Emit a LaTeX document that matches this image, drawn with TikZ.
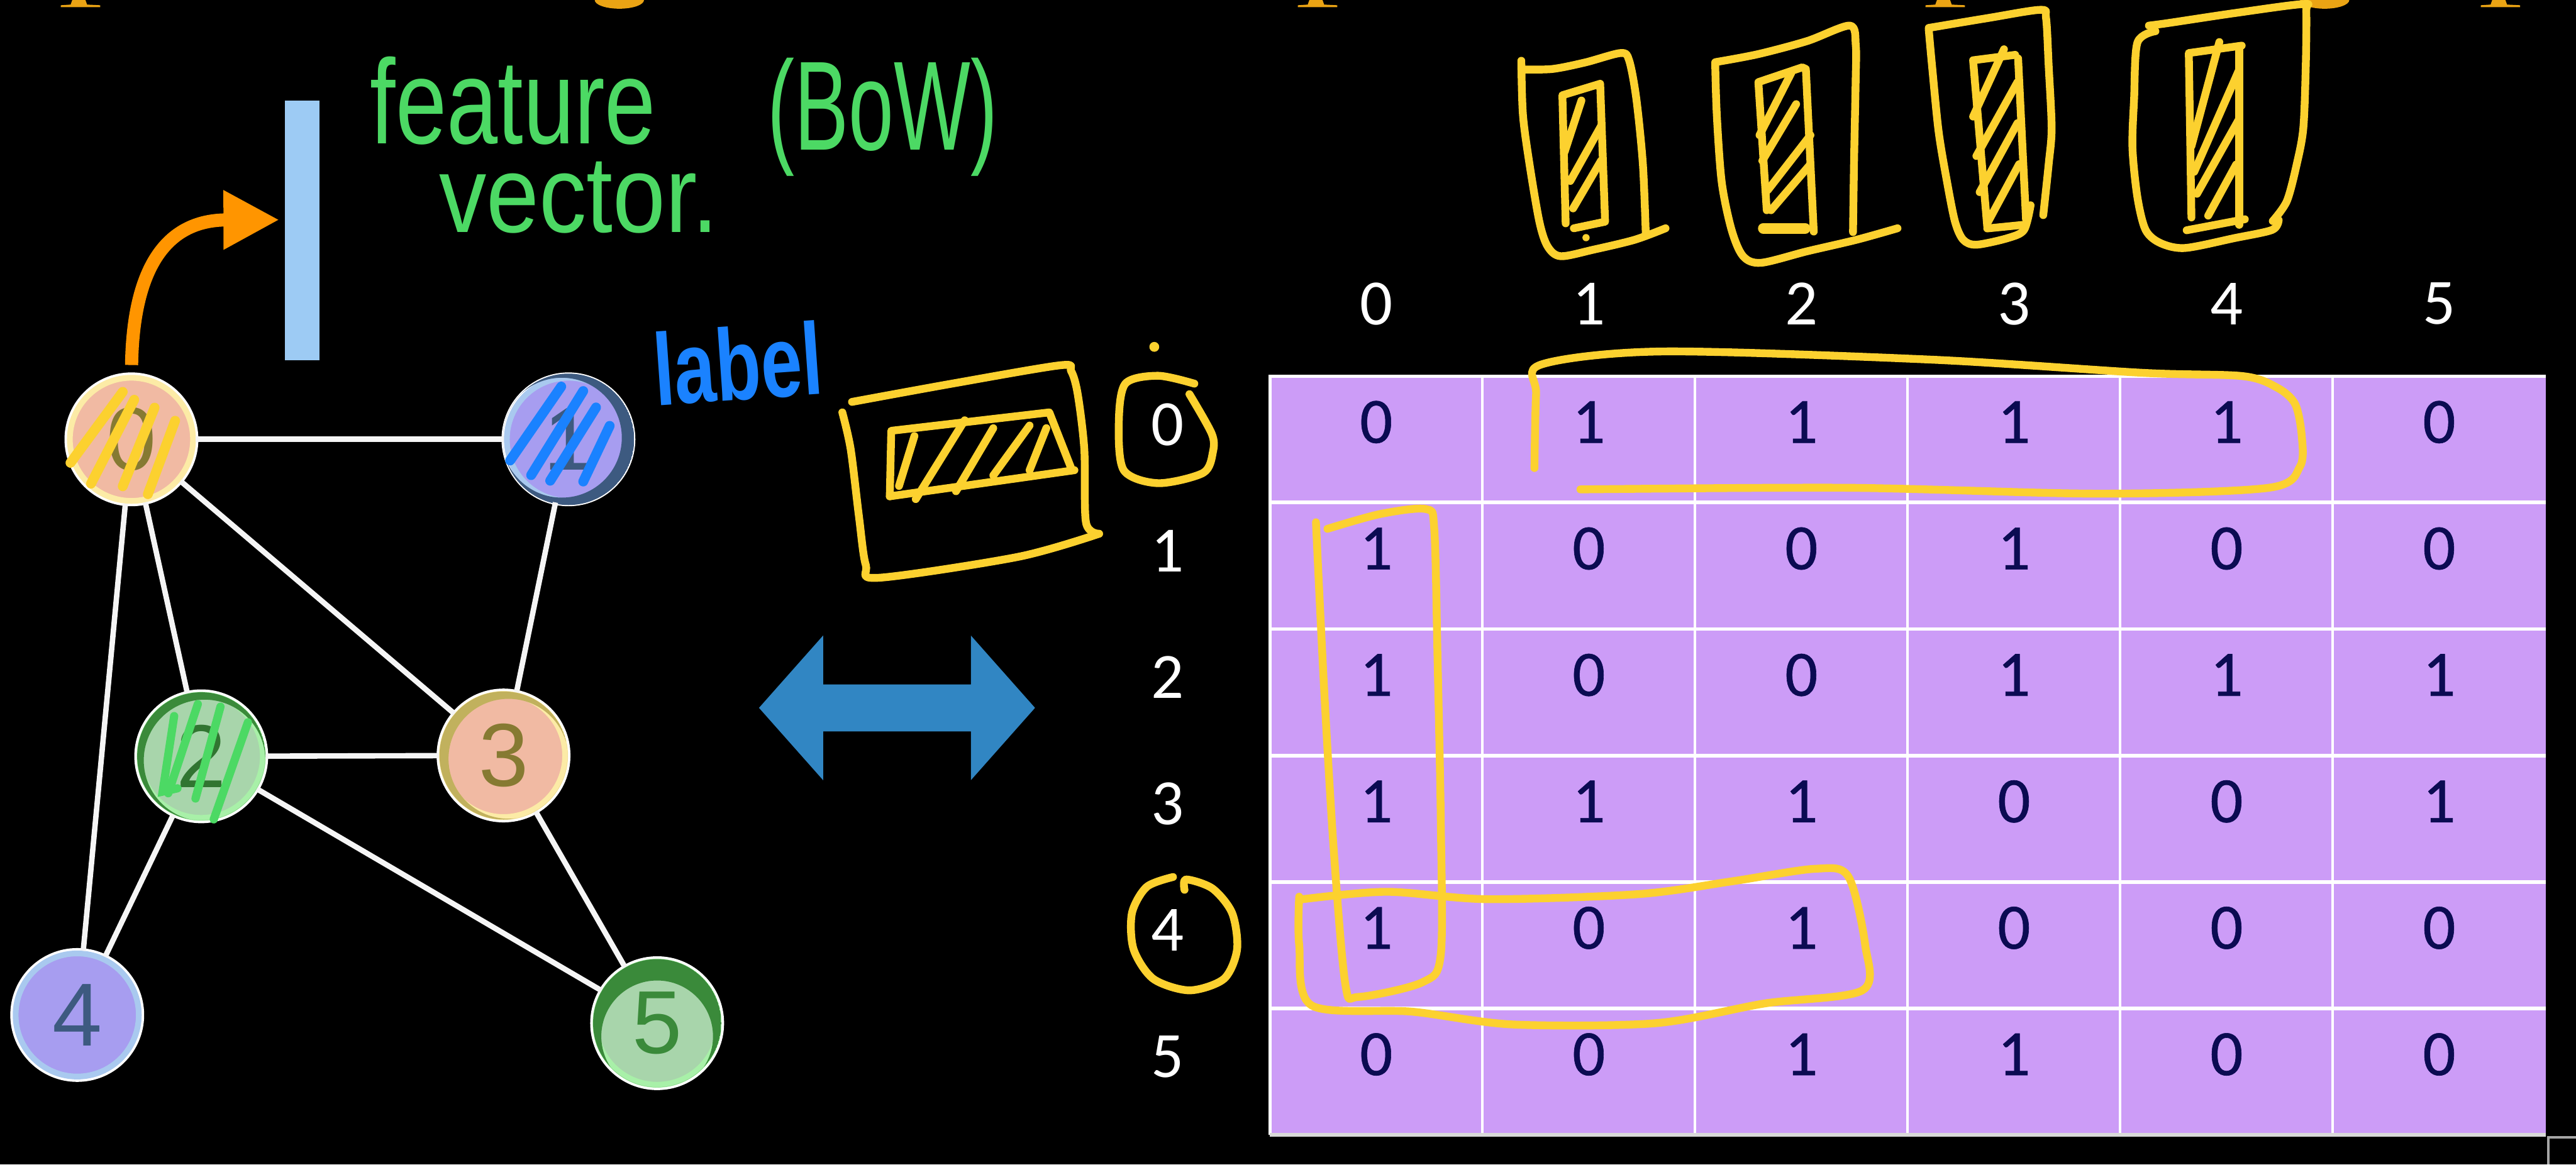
\documentclass[tikz,border=0pt]{standalone}
\usepackage{graphicx}
\usepackage{fontspec}
\setmainfont{Liberation Sans}
\newfontfamily\calib{Carlito}
\newfontfamily\calibm{Carlito}[FakeBold=0.6]
\usetikzlibrary{arrows.meta}
\definecolor{handY}{HTML}{FCD12F}
\definecolor{penG}{HTML}{4CD964}
\definecolor{penB}{HTML}{1A82FF}
\definecolor{orng}{HTML}{FF9500}
\definecolor{barB}{HTML}{9DCBF4}
\definecolor{dblA}{HTML}{3186C3}
\definecolor{cellC}{HTML}{CC9CF7}
\definecolor{cellT}{HTML}{0B0B52}
\definecolor{titleC}{HTML}{EBA414}
\definecolor{peach}{HTML}{F1BAA3}
\definecolor{lav}{HTML}{A79DF0}
\definecolor{sage}{HTML}{A8D5AB}
\definecolor{rimY}{HTML}{FCEBA6}
\definecolor{rimB}{HTML}{A9C9EF}
\definecolor{rimG}{HTML}{A8F0A8}
\definecolor{dkG}{HTML}{3A8A3A}
\definecolor{dkB}{HTML}{3D5A80}
\definecolor{olv}{HTML}{A8983E}
\begin{document}
\begin{tikzpicture}[x=0.02cm,y=-0.02cm,
  gn/.style={circle, minimum size=1.5cm, inner sep=0, line width=0.07cm,
    preaction={draw=white, line width=0.13cm},
    font=\fontsize{31}{31}\selectfont},
  edgeln/.style={draw=white!96!black, line width=0.066cm},
  hatchln/.style={line width=0.12cm, line cap=round},
  pen/.style={draw=handY, line width=0.095cm, line cap=round, line join=round},
  celltxt/.style={inner sep=0, text=cellT, font=\calibm\fontsize{22.4}{24}\selectfont},
  lbl/.style={inner sep=0, text=white, font=\calib\fontsize{22.4}{24}\selectfont}]
\fill[black] (0,0) rectangle (1568,709);
\useasboundingbox (0,0) rectangle (1568,709);
\clip (0,0) rectangle (1568,709);

% cut-off title descenders
\foreach \px in {48,801,1183,1521}{
  \fill[titleC] (\px-4,0) -- (\px+4,0) -- (\px+5,2.8) -- (\px+13,3.2) -- (\px+13,4.4) -- (\px-11,4.4) -- (\px-11,3.2) -- (\px-5,2.8) -- cycle;}
\foreach \gx in {377,1415}{
  \fill[titleC] (\gx-15,0) arc[start angle=180, end angle=0, x radius=15, y radius=5.3] -- cycle;}

% graph nodes
\node[gn, fill=peach, draw=rimY, text=olv!80!black] (n0) at (80,267.5) {0};
\node[gn, fill=lav, draw=rimB, text=dkB] (n1) at (346,267.5) {1};
\node[gn, fill=sage, draw=rimG, text=dkG!85!black] (n2) at (122.5,460.5) {2};
\node[gn, fill=peach, draw=rimY, text=olv!80!black] (n3) at (306.5,460) {3};
\node[gn, fill=lav, draw=rimB, text=dkB] (n4) at (47,618) {4};
\node[gn, fill=sage, draw=rimG, text=dkG] (n5) at (400,623) {5};

% shading crescents
\begin{scope}
  \clip (346,267.5) circle (40);
  \fill[dkB, even odd rule] (346,267.5) circle (40) (342,266.5) circle (36.5);
\end{scope}
\begin{scope}
  \clip (400,623) circle (39);
  \fill[dkG, even odd rule] (400,623) circle (39) (400,631) circle (34);
\end{scope}
\begin{scope}
  \clip (122.5,460.5) circle (39);
  \fill[dkG, even odd rule] (122.5,460.5) circle (39) (124.5,463) circle (37);
\end{scope}
\begin{scope}
  \clip (306.5,460) circle (39);
  \fill[olv!70!rimY, even odd rule] (306.5,460) circle (39) (309.5,462) circle (36.5);
\end{scope}

% edges
\draw[edgeln] (n0) -- (n1);
\draw[edgeln] (n0) -- (n2);
\draw[edgeln] (n0) -- (n3);
\draw[edgeln] (n0) -- (n4);
\draw[edgeln] (n1) -- (n3);
\draw[edgeln] (n2) -- (n3);
\draw[edgeln] (n2) -- (n4);
\draw[edgeln] (n2) -- (n5);
\draw[edgeln] (n3) -- (n5);

% scribbles on nodes
\draw[hatchln, handY] (42.9,281.8) -- (74.7,238.6);
\draw[hatchln, handY] (55.4,294.5) -- (81.7,243.4);
\draw[hatchln, handY] (74.7,296.1) -- (94.1,248.2);
\draw[hatchln, handY] (90,300.9) -- (106.6,256.2);
\draw[hatchln, penB] (310.5,280.4) -- (341.6,235.4);
\draw[hatchln, penB] (323.3,289.3) -- (355,238.1);
\draw[hatchln, penB] (334.9,292.7) -- (362.8,248.1);
\draw[hatchln, penB] (355,293.2) -- (371.1,259.3);
\draw[hatchln, penG, line width=0.1cm] (106,436) -- (99,482) -- (108,480);
\draw[hatchln, penG, line width=0.1cm] (120.4,428.7) -- (102.4,483);
\draw[hatchln, penG, line width=0.1cm] (134.2,430.3) -- (119,486.2);
\draw[hatchln, penG, line width=0.1cm] (150.9,439.8) -- (130.1,498.9);

% feature vector bar and arrow
\node[fill=barB, minimum width=0.42cm, minimum height=3.16cm, inner sep=0, anchor=north west] (fv) at (173,61) {};
\draw[orng, line width=0.16cm, -{Triangle[length=0.68cm,width=0.68cm]}, shorten <=0.12cm, shorten >=0.06cm]
  (n0.north) .. controls (81,165) and (100,134) .. ([yshift=0.13cm]fv.west);

% handwritten texts
\node[anchor=north west, inner sep=0, text=penG, align=left, font=\fontsize{10}{30.7}\selectfont] (tfeat) at (225,34)
  {\resizebox{3.48cm}{1.06cm}{feature}\\\hspace*{0.84cm}\resizebox{3.4cm}{0.86cm}{vector.}};
\node[anchor=north west, inner sep=0, text=penG] (tbow) at (467,35) {\resizebox*{2.8cm}{1.44cm}{(BoW)}};
\node[anchor=base west, inner sep=0, text=penB, rotate=4] (tlab) at (399,247) {\resizebox{2.06cm}{0.9cm}{\bfseries label}};

% double arrow
\fill[dblA] (462,431) -- (501,387) -- (501,416.7) -- (591,416.7) -- (591,387) -- (630,431)
  -- (591,475) -- (591,445.4) -- (501,445.4) -- (501,475) -- cycle;

% adjacency matrix
\fill[cellC] (773,229) rectangle (1549.5,691);
\foreach \k in {1,...,5}{
  \draw[white, line width=0.03cm] ({773+129.4*\k},229) -- ({773+129.4*\k},691);
  \draw[white, line width=0.045cm] (773,{229+77*\k}) -- (1549.5,{229+77*\k});}
\draw[white, line width=0.04cm] (773,691) -- (773,229) -- (1549.5,229);
\draw[white!85!black, line width=0.04cm] (773,691) -- (1549.5,691);
\foreach \r/\vals in {0/{0,1,1,1,1,0},1/{1,0,0,1,0,0},2/{1,0,0,1,1,1},3/{1,1,1,0,0,1},4/{1,0,1,0,0,0},5/{0,0,1,1,0,0}}{
  \foreach \v [count=\c from 0] in \vals {
    \node[celltxt] (m-\r-\c) at ({773+129.4*(\c+0.5)},{257+77*\r}) {\v};}}
\foreach \r in {0,...,5}{
  \node[lbl] (r\r) at (710.6,{258.4+77*\r}) {\r};
  \node[lbl] (k\r) at ({773+129.4*(\r+0.5)},185) {\r};}
\draw[gray!70, line width=0.03cm] (1551,709) -- (1551,692.5) -- (1568,692.5);

% yellow annotations on the matrix
\draw[pen] plot[smooth, tension=0.5] coordinates {(934,285) (935,240) (938,222) (1012,214) (1176,219) (1304,227) (1365,229) (1386,236) (1397,246) (1401,265) (1400,284) (1381,297) (1278,300.6) (1125,297) (962,298)};
\draw[pen] plot[smooth, tension=0.5] coordinates {(808,322) (840,313) (868,310) (873,322) (875,400) (877,500) (877,581) (866,598) (827,607) (819,600) (812,520) (806,420) (801,318)};
\draw[pen] plot[smooth, tension=0.5] coordinates {(793,547.5) (844,543) (905.6,547.5) (997.5,544.4) (1053.7,536.7) (1104.7,529) (1125,533.6) (1135.3,575.3) (1133.6,603) (1074,611) (1007.8,623) (921,623.8) (859.7,616) (798.4,612.2) (790.8,575.3) (790.8,546)};
\draw[pen] plot[smooth, tension=0.5] coordinates {(714,534) (698,540) (689,556) (690,578) (702,596) (724,603) (745,596) (753,578) (750,556) (738,541) (722,535.5) (721,541.8)};
\draw[pen] plot[smooth, tension=0.5] coordinates {(727,233.6) (705,228.8) (685,233.6) (681,257.5) (684,286.3) (705,294.2) (732.4,287.9) (738.3,275.1) (737.5,263.9) (724,240)};
\fill[handY] (702.6,211.2) circle (3);

% box with hatched row
\draw[pen] plot[smooth, tension=0.5] coordinates {(518.6,244.7) (580,233.5) (645.5,222.4) (652,226) (656,240) (660,273.5) (661,318) (669,325)};
\draw[pen] plot[smooth, tension=0.5] coordinates {(669,325) (620,339) (534.8,351.8) (527,344) (522.9,315) (517.8,273.5) (512.7,251.1)};
\draw[pen] (541.6,302.2) -- (542.5,262.3) -- (638.7,251.1) -- (652.5,286.3);
\draw[pen] (541.6,302.2) -- (654,286.3);
\draw[pen] (547.2,295.9) -- (556.6,265.5);
\draw[pen] (557.4,303.9) -- (587.2,255.9);
\draw[pen] (581.9,299.1) -- (604.6,260.7);
\draw[pen] (604.6,289.5) -- (626.7,259.1);
\draw[pen] (626.7,286.3) -- (636.9,260.7);

% column boxes at the top
\draw[pen] plot[smooth, tension=0.5] coordinates {(926,37) (927,70) (931,100) (937,135) (942,150) (950,156) (970,152) (995,146) (1013.8,139)};
\draw[pen] plot[smooth, tension=0.5] coordinates {(1001.8,143.5) (1000,100) (996,60) (991.6,36.7) (986.5,32.3) (965,38) (945,42) (927,42.3)};
\draw[pen] (953,136) -- (951,58) -- (974,51) -- (977,135) -- (958,139);
\draw[pen] (952.4,92.4) -- (962.6,61.2);
\draw[pen] (955.8,110.2) -- (974.5,76.8);
\draw[pen] (957.5,126.9) -- (974.5,97.9);
\fill[handY] (965.4,144.7) circle (2.2);

\draw[pen] plot[smooth, tension=0.5] coordinates {(1044,38) (1045,70) (1048,111) (1054,140) (1061,156) (1072,160) (1100,153) (1130,146) (1155,139)};
\draw[pen] plot[smooth, tension=0.5] coordinates {(1127.9,141.3) (1128.5,100) (1129.5,50) (1129.6,27.8) (1126,15.6) (1100,25) (1070,33) (1044.4,37.8)};
\draw[pen] (1075.4,128) -- (1070.3,50) -- (1097,41) -- (1099.2,42) -- (1104,141);
\draw[pen, line width=0.13cm] (1073.3,139) -- (1098.8,139);
\draw[pen] (1071,82.3) -- (1090.3,44.5);
\draw[pen] (1072.7,97.9) -- (1093.3,63.4);
\draw[pen] (1076.1,115.7) -- (1102,82.3);
\draw[pen] (1078,128) -- (1102,100);

\draw[pen] plot[smooth, tension=0.5] coordinates {(1174,18) (1176,40) (1180,80) (1185,110) (1190,135) (1195,146) (1203,149) (1222,145) (1232,140) (1236,125)};
\draw[pen] plot[smooth, tension=0.5] coordinates {(1243.7,131) (1247,100) (1248.8,78) (1247,40) (1245.4,11) (1242,6) (1210,11) (1174,17)};
\draw[pen] (1209.6,138) -- (1201,36.7) -- (1226.6,33.4);
\draw[pen] (1228.4,35.6) -- (1233.2,133.5);
\draw[pen] (1209.6,139.1) -- (1231.6,136.9);
\draw[pen] (1201,71) -- (1219.8,30);
\draw[pen] (1203,95) -- (1228,50);
\draw[pen] (1205,117) -- (1228,75);
\draw[pen] (1209.6,136) -- (1229,100);

\draw[pen] plot[smooth, tension=0.5] coordinates {(1312,19) (1301,26) (1299,60) (1298,90) (1301,120) (1306,140) (1315,148) (1330,151) (1360,145) (1383,140) (1387,134)};
\draw[pen] plot[smooth, tension=0.5] coordinates {(1383.4,134.6) (1392,122.4) (1398,100) (1402,78) (1403.5,40) (1403.8,6.7) (1402,2.5) (1360,8) (1320,14) (1308,15.6)};
\draw[pen] (1333.9,132.4) -- (1332.3,32.3) -- (1364.5,27.8);
\draw[pen] (1363,28.9) -- (1363,136.9);
\draw[pen] (1331,140.2) -- (1366.4,133.5);
\draw[pen] (1333.9,89) -- (1350.9,25.6);
\draw[pen] (1335.6,104.6) -- (1363,42.3);
\draw[pen] (1337.3,118) -- (1363,72.3);
\draw[pen] (1344.1,131.3) -- (1361.1,100.2);
\end{tikzpicture}
\end{document}
